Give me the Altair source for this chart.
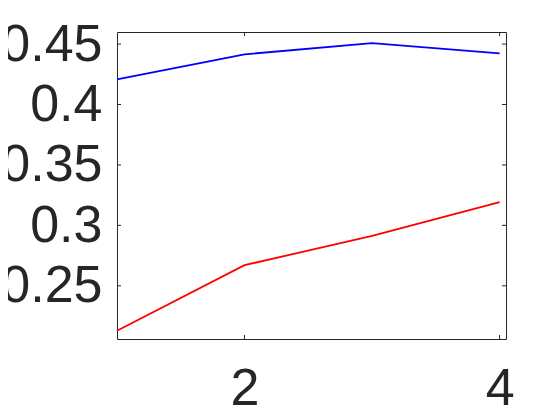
import altair as alt
import pandas as pd

x_vals = [1, 2, 3, 4]
blue_vals = [0.4208, 0.4415, 0.4508, 0.4423]
red_vals = [0.2128, 0.2671, 0.2913, 0.3192]
y_ticks = [0.25, 0.3, 0.35, 0.4, 0.45]
x_ticks = [2, 4]
series_names = ["A", "B"]
series_colors = ["#0000ff", "#ff0000"]

W, H = 389, 307
INK = "#262626"
FONT = "Liberation Sans"

df = pd.DataFrame({
    "x": x_vals + x_vals,
    "y": blue_vals + red_vals,
    "s": [series_names[0]] * len(x_vals) + [series_names[1]] * len(x_vals),
})
ydf = pd.DataFrame({"v": y_ticks})
xdf = pd.DataFrame({"v": x_ticks})

xs = alt.Scale(domain=[1, 4.05], nice=False, zero=False)
ys = alt.Scale(domain=[0.206, 0.460], nice=False, zero=False)

x_axis = alt.Axis(
    values=x_ticks, title=None, grid=False, ticks=False, domain=False,
    labelFontSize=52, labelFont=FONT, labelColor=INK, labelPadding=24,
    labelFlush=False, labelOverlap=False, format="d")
y_axis = alt.Axis(
    values=y_ticks, title=None, grid=False, ticks=False, domain=False,
    labelFontSize=52, labelFont=FONT, labelColor=INK, labelPadding=15,
    labelOverlap=False, format="~g")

lines = alt.Chart(df).mark_line(strokeWidth=1.8).encode(
    x=alt.X("x:Q", scale=xs, axis=x_axis),
    y=alt.Y("y:Q", scale=ys, axis=y_axis),
    color=alt.Color("s:N", scale=alt.Scale(domain=series_names, range=series_colors), legend=None),
    order="x:Q",
)

yl = alt.Chart(ydf).mark_rule(color=INK, strokeWidth=1).encode(
    y=alt.Y("v:Q", scale=ys, axis=y_axis), x=alt.value(0), x2=alt.value(4))
yr = alt.Chart(ydf).mark_rule(color=INK, strokeWidth=1).encode(
    y=alt.Y("v:Q", scale=ys, axis=y_axis), x=alt.value(W - 4), x2=alt.value(W))
xb = alt.Chart(xdf).mark_rule(color=INK, strokeWidth=1).encode(
    x=alt.X("v:Q", scale=xs, axis=x_axis), y=alt.value(H - 4), y2=alt.value(H))
xt = alt.Chart(xdf).mark_rule(color=INK, strokeWidth=1).encode(
    x=alt.X("v:Q", scale=xs, axis=x_axis), y=alt.value(0), y2=alt.value(4))

chart = alt.layer(lines, yl, yr, xb, xt).properties(
    width=W, height=H,
    autosize=alt.AutoSizeParams(type="none"),
    padding={"left": 109, "top": 24, "right": 20, "bottom": 80},
).configure_view(stroke=INK, strokeWidth=1)

chart.save("out.html", embed_options={"renderer": "svg", "actions": False})
